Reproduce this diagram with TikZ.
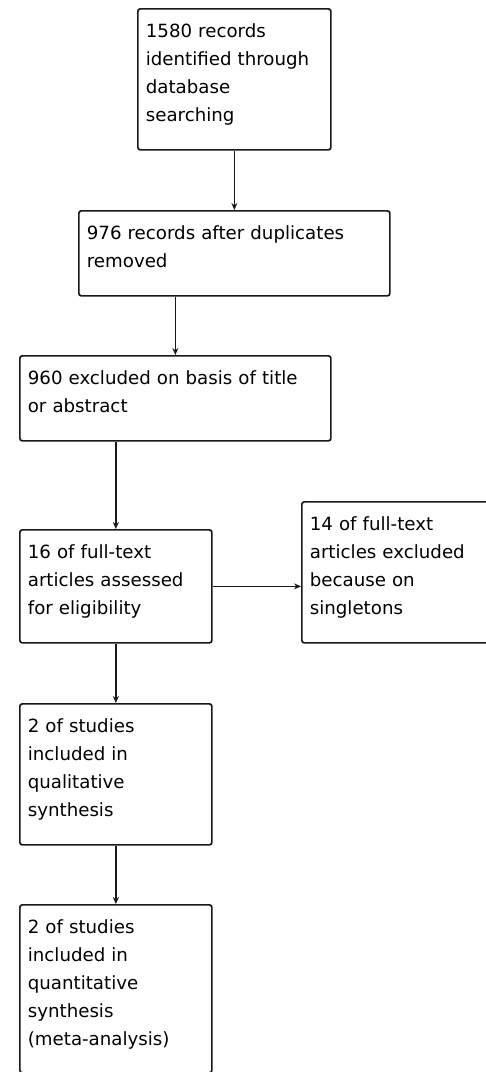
\documentclass[tikz,border=0pt]{standalone}
\usepackage{fontspec}
\setmainfont{DejaVu Sans}
\usetikzlibrary{arrows.meta}

\tikzset{
  stage/.style={draw=black!90, line width=1.7pt, rounded corners=2.5pt, anchor=north west,
    align=left, inner xsep=8pt, inner ysep=0pt, text height=29pt, text depth=#1,
    font=\fontsize{18.2}{28}\selectfont},
  flow/.style={-{Stealth[length=7pt, width=6pt]}, line width=1.7pt, black!90}
}

\begin{document}
\begin{tikzpicture}[x=1pt, y=-1pt]
    \useasboundingbox (0,0) rectangle (486,1072);
    \clip (0,0) rectangle (486,1072);

    % Identification
    \node[stage=112pt, text width=177pt] (found) at (137,8) {1580 records\\identified through\\database\\searching};

    % Screening
    \node[stage=56pt, text width=295pt] (dedup) at (78,210) {976 records after duplicates\\removed};
    \node[stage=56pt, text width=295pt] (screen) at (19,355) {960 excluded on basis of title\\or abstract};

    % Eligibility
    \node[stage=84pt, text width=176pt] (fulltext) at (19,529) {16 of full-text\\articles assessed\\for eligibility};
    \node[stage=112pt, text width=200pt] (excluded) at (301,501) {14 of full-text\\articles excluded\\because on\\singletons};

    % Included
    \node[stage=112pt, text width=176pt] (quali) at (19,703) {2 of studies\\included in\\qualitative\\synthesis};
    \node[stage=139pt, text width=176pt] (quanti) at (19,904) {2 of studies\\included in\\quantitative\\synthesis\\(meta-analysis)};

    % Flow arrows
    \draw[flow] (found.south) -- (found.south |- dedup.north);
    \draw[flow] (dedup.south -| screen.north) -- (screen.north);
    \draw[flow] (screen.south -| fulltext.north) -- (fulltext.north);
    \draw[flow] (fulltext.east) -- (fulltext.east -| excluded.west);
    \draw[flow] (fulltext.south) -- (quali.north);
    \draw[flow] (quali.south) -- (quanti.north);
\end{tikzpicture}
\end{document}
